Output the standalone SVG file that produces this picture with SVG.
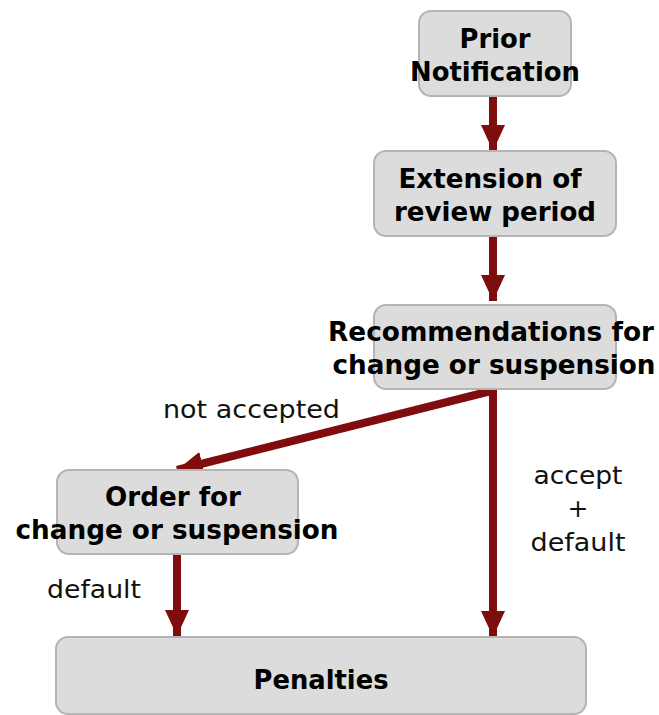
<svg xmlns="http://www.w3.org/2000/svg" width="659" height="715" viewBox="0 0 659 715">
  <defs>
    <marker id="head" viewBox="0 0 26 24" refX="26" refY="12" markerWidth="26" markerHeight="24" markerUnits="userSpaceOnUse" orient="auto">
      <path d="M0,0 L26,12 L0,24 Z" fill="#800d0d"/>
    </marker>
    <style>
      .box { fill: #dcdcdc; stroke: #b4b4b4; stroke-width: 2; }
      .title { font-family: "DejaVu Sans", Verdana, sans-serif; font-weight: bold; font-size: 27px; fill: #000; text-anchor: middle; }
      .lbl { font-family: "DejaVu Sans", Verdana, sans-serif; font-size: 25px; fill: #111; }
      .edge { stroke: #800d0d; stroke-width: 8; fill: none; marker-end: url(#head); }
    </style>
  </defs>
  <rect width="659" height="715" fill="#ffffff"/>

  <g id="connectors">
    <line class="edge" x1="493" y1="96" x2="493" y2="151"/>
    <line class="edge" x1="493" y1="236" x2="493" y2="301"/>
    <line class="edge" x1="493" y1="389" x2="493" y2="637"/>
    <polyline class="edge" points="495,390 177,470"/>
    <line class="edge" x1="177" y1="554" x2="177" y2="636"/>
  </g>

  <g id="prior-notification">
    <rect class="box" x="419" y="11" width="152" height="85" rx="12"/>
    <text class="title" x="495" y="48" textLength="71" lengthAdjust="spacingAndGlyphs">Prior</text>
    <text class="title" x="495" y="81" textLength="170" lengthAdjust="spacingAndGlyphs">Notification</text>
  </g>

  <g id="extension">
    <rect class="box" x="374" y="151" width="242" height="85" rx="12"/>
    <text class="title" x="490" y="188" textLength="183" lengthAdjust="spacingAndGlyphs">Extension of</text>
    <text class="title" x="495" y="221" textLength="202" lengthAdjust="spacingAndGlyphs">review period</text>
  </g>

  <g id="recommendations">
    <rect class="box" x="374" y="305" width="242" height="84" rx="12"/>
    <text class="title" x="491" y="341" textLength="326" lengthAdjust="spacingAndGlyphs">Recommendations for</text>
    <text class="title" x="494" y="374" textLength="323" lengthAdjust="spacingAndGlyphs">change or suspension</text>
  </g>

  <g id="order">
    <rect class="box" x="57" y="470" width="241" height="84" rx="12"/>
    <text class="title" x="173" y="506" textLength="136" lengthAdjust="spacingAndGlyphs">Order for</text>
    <text class="title" x="177" y="539" textLength="323" lengthAdjust="spacingAndGlyphs">change or suspension</text>
  </g>

  <g id="penalties">
    <rect class="box" x="56" y="637" width="530" height="77" rx="12"/>
    <text class="title" x="321" y="689" textLength="135" lengthAdjust="spacingAndGlyphs">Penalties</text>
  </g>

  <g id="labels">
    <text class="lbl" x="163" y="418" textLength="177" lengthAdjust="spacingAndGlyphs">not accepted</text>
    <text class="lbl" x="578" y="484" text-anchor="middle" textLength="89" lengthAdjust="spacingAndGlyphs">accept</text>
    <text class="lbl" x="578" y="517" text-anchor="middle">+</text>
    <text class="lbl" x="578" y="551" text-anchor="middle" textLength="95" lengthAdjust="spacingAndGlyphs">default</text>
    <text class="lbl" x="47" y="598" textLength="94" lengthAdjust="spacingAndGlyphs">default</text>
  </g>
</svg>
